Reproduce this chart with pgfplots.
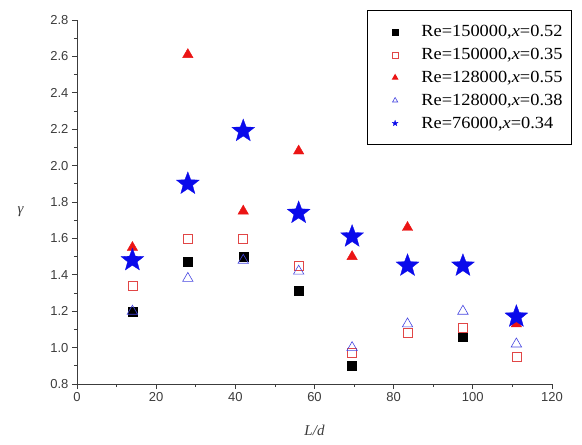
\documentclass[border=0pt]{standalone}
\usepackage{fontspec}
\setmainfont{Liberation Serif}
\newfontfamily\arial{Liberation Sans}
\newfontfamily\legfont[FakeStretch=1.08]{Liberation Serif}
\usepackage{pgfplots}
\pgfplotsset{compat=1.18}
\definecolor{myred}{RGB}{235,20,20}
\definecolor{myblue}{RGB}{10,10,235}
\definecolor{pinkred}{RGB}{225,70,70}
\definecolor{ltblue}{RGB}{70,70,225}
\definecolor{tickgray}{RGB}{60,60,60}
\pgfdeclareplotmark{fstar}{%
  \pgfpathmoveto{\pgfpointpolar{90}{\pgfplotmarksize}}%
  \pgfpathlineto{\pgfpointpolar{126}{0.42\pgfplotmarksize}}%
  \pgfpathlineto{\pgfpointpolar{162}{\pgfplotmarksize}}%
  \pgfpathlineto{\pgfpointpolar{198}{0.42\pgfplotmarksize}}%
  \pgfpathlineto{\pgfpointpolar{234}{\pgfplotmarksize}}%
  \pgfpathlineto{\pgfpointpolar{270}{0.42\pgfplotmarksize}}%
  \pgfpathlineto{\pgfpointpolar{306}{\pgfplotmarksize}}%
  \pgfpathlineto{\pgfpointpolar{342}{0.42\pgfplotmarksize}}%
  \pgfpathlineto{\pgfpointpolar{18}{\pgfplotmarksize}}%
  \pgfpathlineto{\pgfpointpolar{54}{0.42\pgfplotmarksize}}%
  \pgfpathclose
  \pgfusepathqfillstroke}
\begin{document}
\begin{tikzpicture}
\begin{axis}[
  scale only axis, width=475pt, height=364pt,
  xmin=0, xmax=120, ymin=0.8, ymax=2.8,
  axis x line*=bottom, axis y line*=left,
  axis line style={line width=0.8pt, tickgray},
  xtick={0,20,40,60,80,100,120},
  ytick={0.8,1.0,1.2,1.4,1.6,1.8,2.0,2.2,2.4,2.6,2.8},
  minor x tick num=1, minor y tick num=1,
  tick align=outside,
  major tick length=5pt, minor tick length=3pt,
  tick style={line width=0.7pt, tickgray},
  /pgf/number format/assume math mode=true,
  yticklabel style={/pgf/number format/fixed, /pgf/number format/precision=1, /pgf/number format/fixed zerofill},
  tick label style={font=\arial\fontsize{13}{13}\selectfont, text=tickgray},
  xlabel={\itshape L/d}, ylabel={\itshape γ},
  label style={font=\fontsize{15}{15}\selectfont, text=tickgray},
  xlabel style={yshift=-16pt},
  ylabel style={rotate=-90, xshift=-20pt, yshift=-10pt},
  legend style={at={(1.042,1.027)}, anchor=north east, draw=black, line width=1pt,
    font=\legfont\fontsize{17}{17}\selectfont, row sep=6pt, inner xsep=6pt, inner ysep=13pt,
    nodes={inner xsep=3pt}},
  legend image code/.code={%
    \path (-0.75cm,0) (0.8cm,0);
    \draw[#1, mark size=3pt] plot coordinates {(0cm,0cm)};},
  legend cell align=left,
  clip=false,
]
\addplot[only marks, mark=square*, mark size=4.5pt, black, mark options={line width=0.4pt}]
  coordinates {(14,1.20) (28,1.47) (42,1.50) (56,1.31) (69.5,0.90) (97.5,1.06)};
\addlegendentry{Re=150000,\textit{x}=0.52}
\addplot[only marks, mark=square, mark size=4.5pt, pinkred, mark options={line width=0.6pt}]
  coordinates {(14,1.34) (28,1.60) (42,1.60) (56,1.45) (69.5,0.97) (83.5,1.08) (97.5,1.11) (111,0.95)};
\addlegendentry{Re=150000,\textit{x}=0.35}
\addplot[only marks, mark=triangle*, mark size=6pt, myred]
  coordinates {(14,1.55) (28,2.61) (42,1.75) (56,2.08) (69.5,1.50) (83.5,1.66) (111,1.13)};
\addlegendentry{Re=128000,\textit{x}=0.55}
\addplot[only marks, mark=triangle, mark size=6pt, ltblue, mark options={line width=0.6pt}]
  coordinates {(14,1.20) (28,1.38) (42,1.48) (56,1.42) (69.5,1.00) (83.5,1.13) (97.5,1.20) (111,1.02)};
\addlegendentry{Re=128000,\textit{x}=0.38}
\addplot[only marks, mark=fstar, mark size=12pt, myblue, mark options={fill=myblue, line width=0.3pt}]
  coordinates {(14,1.48) (28,1.90) (42,2.19) (56,1.74) (69.5,1.61) (83.5,1.45) (97.5,1.45) (111,1.17)};
\addlegendentry{Re=76000,\textit{x}=0.34}
\end{axis}
\pgfresetboundingbox
\path ([shift={(-77pt,-61pt)}]current axis.south west) rectangle ([shift={(30pt,20pt)}]current axis.north east);
\end{tikzpicture}
\end{document}
